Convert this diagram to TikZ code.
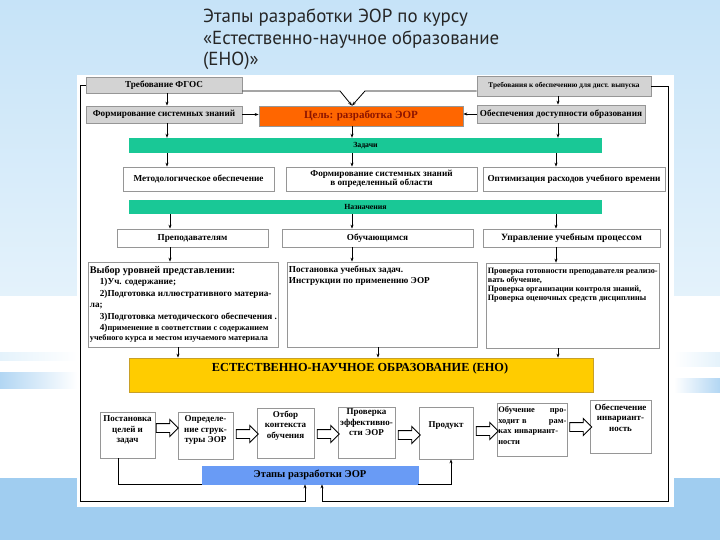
\documentclass[tikz,border=0pt]{standalone}
\usepackage{fontspec}
\setmainfont{Liberation Serif}
\newfontfamily\titlefont{PT Sans}
\usetikzlibrary{arrows.meta,shapes.arrows}

\definecolor{boxgray}{RGB}{211,211,211}
\definecolor{boxline}{RGB}{150,150,150}
\definecolor{goalorange}{RGB}{255,102,0}
\definecolor{goaltext}{RGB}{140,20,0}
\definecolor{barteal}{RGB}{25,200,150}
\definecolor{enoyellow}{RGB}{255,204,0}
\definecolor{enoline}{RGB}{200,160,40}
\definecolor{stageblue}{RGB}{105,155,245}
\definecolor{skytop}{RGB}{198,227,248}
\definecolor{skymid}{RGB}{228,242,251}
\definecolor{skylow}{RGB}{160,205,240}
\definecolor{skybot}{RGB}{222,239,250}
\definecolor{streak}{RGB}{178,214,243}

\tikzset{
  box/.style={draw=boxline, line width=0.7pt, inner sep=0pt, align=center,
    font=\bfseries\fontsize{9.2}{10}\selectfont},
  graybox/.style={box, fill=boxgray},
  whitebox/.style={box, fill=white},
  bar/.style={fill=barteal, inner sep=0pt, font=\bfseries\fontsize{7.8}{8}\selectfont},
  arr/.style={-{Stealth[length=4pt,width=3pt]}, line width=0.8pt},
  link/.style={line width=1pt},
  flow/.style={single arrow, draw, fill=white, line width=0.9pt, inner sep=0pt,
    text height=4pt, text depth=4pt, minimum height=22pt, single arrow head extend=4pt},
  note/.style={anchor=north west, inner sep=0pt, align=left,
    font=\bfseries\fontsize{9.2}{11.5}\selectfont},
  stagetext/.style={anchor=north, inner sep=0pt, align=center,
    font=\bfseries\fontsize{9}{10.5}\selectfont}
}
\newcommand\spread{\hskip 0pt plus 1filll}

\begin{document}
\begin{tikzpicture}[x=1pt, y=-1pt]
\useasboundingbox (0,0) rectangle (720,540);

% background
\fill[top color=skytop, bottom color=skymid] (0,0) rectangle (720,296);
\fill[white] (0,296) rectangle (720,478);
\fill[left color=skymid, right color=white] (0,352) rectangle (77,360);
\fill[left color=streak, right color=white] (0,372) rectangle (77,388);
\fill[left color=white, right color=skymid] (674,352) rectangle (720,366);
\fill[left color=white, right color=streak] (674,378) rectangle (720,392);
\fill[left color=skylow, middle color=skybot, right color=skylow] (0,478) rectangle (720,540);
\fill[white] (77,75) rectangle (674,507);

% title
\node[anchor=north west, inner sep=0pt, align=left, text=black!85,
  font=\titlefont\fontsize{18.9}{21.5}\selectfont] (title) at (203,9)
  {Этапы разработки ЭОР по курсу\\«Естественно-научное образование\\(ЕНО)»};

% top rows
\node[graybox, minimum width=156pt, minimum height=16pt] (fgos) at (164,85) {Требование ФГОС};
\node[graybox, minimum width=174pt, minimum height=20pt,
  font=\bfseries\fontsize{7.3}{8}\selectfont] (dist) at (564,86) {Требования к обеспечению для дист. выпуска};
\node[graybox, minimum width=156pt, minimum height=17pt] (formzn) at (164,114.5) {Формирование системных знаний};
\node[box, fill=goalorange, minimum width=204pt, minimum height=20pt, text=goaltext,
  font=\bfseries\fontsize{11}{13}\selectfont] (goal) at (361,116) {Цель: разработка ЭОР};
\node[graybox, minimum width=168pt, minimum height=18pt] (dostup) at (561,114) {Обеспечения доступности образования};

\node[bar, minimum width=473pt, minimum height=15pt] (zadachi) at (365.5,145.5) {Задачи};

\node[whitebox, minimum width=151pt, minimum height=24pt] (metod) at (198.5,179) {Методологическое обеспечение};
\node[whitebox, minimum width=191pt, minimum height=24pt,
  font=\bfseries\fontsize{9.2}{8.5}\selectfont] (formobl) at (381.5,179) {Формирование системных знаний\\в определенный области};
\node[whitebox, minimum width=182pt, minimum height=24pt] (optim) at (574,179) {Оптимизация расходов учебного времени};

\node[bar, minimum width=473pt, minimum height=14pt] (naznach) at (365.5,207) {Назначения};

\node[whitebox, minimum width=151pt, minimum height=18pt] (prep) at (192.5,238) {Преподавателям};
\node[whitebox, minimum width=191pt, minimum height=18pt] (obuch) at (377.5,238) {Обучающимся};
\node[whitebox, minimum width=177pt, minimum height=18pt,
  font=\bfseries\fontsize{9.6}{10}\selectfont] (uprav) at (571.5,238) {Управление учебным процессом};

% big boxes
\node[whitebox, minimum width=190pt, minimum height=85pt] (vybor) at (183,304.5) {};
\node[note] (vybortxt) at ([xshift=2pt,yshift=-4pt]vybor.north west)
  {{\fontsize{10.2}{11.5}\selectfont Выбор уровней представлении:}\\
   \hspace*{10pt}1)Уч. содержание;\\
   \hspace*{10pt}2)Подготовка иллюстративного материа-\\
   ла;\\
   \hspace*{10pt}3)Подготовка методического обеспечения .\\
   \hspace*{10pt}4){\fontsize{8.3}{9}\selectfont применение в соответствии с содержанием}\\[-1.5pt]
   {\fontsize{8.3}{9}\selectfont учебного курса и местом изучаемого материала}};
\node[whitebox, minimum width=190pt, minimum height=85pt] (zadbox) at (382,304.5) {};
\node[note] (zadtxt) at ([xshift=2pt,yshift=-4pt]zadbox.north west)
  {Постановка учебных задач.\\Инструкции по применению ЭОР};
\node[whitebox, minimum width=173pt, minimum height=85pt] (prov) at (572.5,305.5) {};
\node[note, font=\bfseries\fontsize{8.2}{9}\selectfont] (provtxt) at ([xshift=2pt,yshift=-5pt]prov.north west)
  {Проверка готовности преподавателя реализо-\\вать обучение,\\Проверка организации контроля знаний,\\Проверка оценочных средств дисциплины};

\node[box, fill=enoyellow, draw=enoline, minimum width=464pt, minimum height=34pt] (eno) at (361,375) {};
\node[inner sep=0pt, font=\bfseries\fontsize{12.3}{14}\selectfont] (enotxt) at (360,369) {ЕСТЕСТВЕННО-НАУЧНОЕ ОБРАЗОВАНИЕ (ЕНО)};

% stages
\node[whitebox, minimum width=55pt, minimum height=46pt] (post) at (127.5,435) {};
\node[stagetext] (posttxt) at ([yshift=-4pt]post.north) {Постановка\\целей и\\задач};
\node[whitebox, minimum width=55pt, minimum height=47pt] (opred) at (205.5,435.5) {};
\node[stagetext] (opredtxt) at ([yshift=-4pt]opred.north) {Определе-\\ние струк-\\туры ЭОР};
\node[whitebox, minimum width=57pt, minimum height=50pt] (otbor) at (285.5,433) {};
\node[stagetext] (otbortxt) at ([yshift=-3pt]otbor.north) {Отбор\\контекста\\обучения};
\node[whitebox, minimum width=57pt, minimum height=51pt] (proverka) at (366.5,432.5) {};
\node[stagetext] (proverkatxt) at ([yshift=-2pt]proverka.north) {Проверка\\эффективно-\\сти ЭОР};
\node[whitebox, minimum width=54pt, minimum height=52pt] (prod) at (446,433) {};
\node[stagetext] (prodtxt) at ([yshift=-15pt]prod.north) {Продукт};
\node[whitebox, minimum width=70pt, minimum height=53pt] (obuchen) at (532,429.5) {};
\node[stagetext, anchor=north west, align=left, text width=68pt,
  font=\bfseries\fontsize{8.4}{10.5}\selectfont] (obuchentxt) at ([xshift=1.5pt,yshift=-4pt]obuchen.north west)
  {Обучение \spread про-\\ходит в \spread рам-\\ках инвариант-\\ности};
\node[whitebox, minimum width=61pt, minimum height=53pt] (obesp) at (620.5,426.5) {};
\node[stagetext] (obesptxt) at ([yshift=-4pt]obesp.north) {Обеспечение\\инвариант-\\ность};

\node[flow] (f1) at (165,428) {};
\node[flow] (f2) at (245,434) {};
\node[flow] (f3) at (326,434) {};
\node[flow] (f4) at (407,435) {};
\node[flow] (f5) at (485,431) {};
\node[flow] (f6) at (578.5,427) {};

\node[box, fill=stageblue, draw=stageblue, minimum width=216pt, minimum height=18pt,
  font=\bfseries\fontsize{10.5}{11}\selectfont] (etapy) at (310,475) {Этапы разработки ЭОР};

% columns
\coordinate (c1) at (167,0);
\coordinate (c1b) at (170,0);
\coordinate (c1c) at (178,0);
\coordinate (c2) at (352,0);
\coordinate (c2c) at (378,0);
\coordinate (c3) at (558,0);
\coordinate (c3b) at (556,0);

\foreach \a/\b in {fgos/formzn, formzn/zadachi, zadachi/metod}
  \draw[arr] (\a.south -| c1) -- (\b.north -| c1);
\foreach \a/\b in {naznach/prep, prep/vybor}
  \draw[arr] (\a.south -| c1b) -- (\b.north -| c1b);
\draw[arr] (vybor.south -| c1c) -- (eno.north -| c1c);
\foreach \a/\b in {goal/zadachi, zadachi/formobl, naznach/obuch, obuch/zadbox}
  \draw[arr] (\a.south -| c2) -- (\b.north -| c2);
\draw[arr] (zadbox.south -| c2c) -- (eno.north -| c2c);
\foreach \a/\b in {dist/dostup, dostup/zadachi, prov/eno}
  \draw[arr] (\a.south -| c3) -- (\b.north -| c3);
\foreach \a/\b in {zadachi/optim, naznach/uprav, uprav/prov}
  \draw[arr] (\a.south -| c3b) -- (\b.north -| c3b);

\draw[arr] (formzn.east) -- (goal.west |- formzn.east);
\draw[arr] (dostup.west) -- (goal.east |- dostup.west);

\coordinate (vl) at (340,91);
\coordinate (vr) at (365,91);
\draw[arr] (fgos.east |- vl) -- (vl) -- ([xshift=-9pt]goal.north);
\draw[arr] (dist.west |- vr) -- (vr) -- ([xshift=-9pt]goal.north);

\coordinate (fl) at (80,501);
\coordinate (fr) at (668,501);
\draw[arr] (fgos.west) -| (fl) -| ([xshift=-5pt]etapy.south);
\draw[arr] (dist.east) -| (fr) -| ([xshift=12pt]etapy.south);
\draw[link] ([xshift=-9.5pt]post.south) |- (etapy.south west);
\draw[arr] (etapy.south east) -| ([xshift=5pt]prod.south);
\end{tikzpicture}
\end{document}
